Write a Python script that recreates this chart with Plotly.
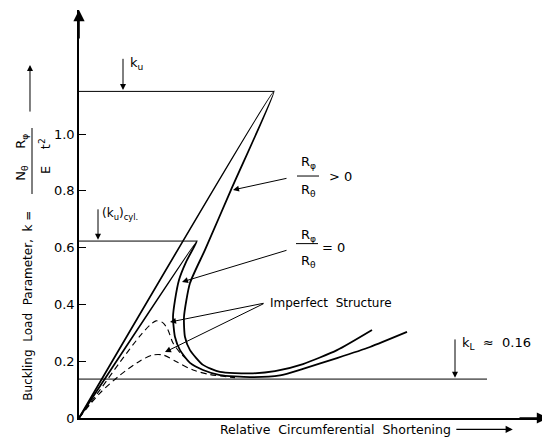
import plotly.graph_objects as go

# ---- data (x: relative circumferential shortening, arbitrary units; y: k) ----
outer_x = [0.0, 1.95, 1.52, 1.26, 1.11, 1.05, 1.06, 1.11, 1.24, 1.41, 1.71, 1.96, 2.24, 2.58, 2.93]
outer_y = [0.0, 1.15, 0.803, 0.592, 0.475, 0.356, 0.285, 0.239, 0.187, 0.162, 0.157, 0.165, 0.190, 0.239, 0.310]

inner_x = [0.0, 1.18, 1.07, 1.00, 0.96, 0.94, 0.96, 1.01, 1.11, 1.24, 1.41, 1.71, 2.01, 2.24, 2.58, 2.91, 3.28]
inner_y = [0.0, 0.623, 0.549, 0.486, 0.415, 0.356, 0.285, 0.239, 0.194, 0.169, 0.151, 0.144, 0.150, 0.173, 0.211, 0.250, 0.303]

imp1_x = [0.0, 0.21, 0.41, 0.61, 0.71, 0.77, 0.84, 0.89, 0.94, 1.02, 1.10]
imp1_y = [0.0, 0.099, 0.197, 0.289, 0.327, 0.342, 0.335, 0.310, 0.264, 0.226, 0.200]

imp2_x = [0.0, 0.21, 0.41, 0.61, 0.74, 0.84, 0.98, 1.14, 1.31, 1.56]
imp2_y = [0.0, 0.088, 0.151, 0.201, 0.222, 0.222, 0.197, 0.169, 0.153, 0.142]

k_u = 1.15
k_u_cyl = 0.623
k_L = 0.137
k_u_end = 1.95
k_u_cyl_end = 1.18
k_L_end = 4.08

y_ticks = [0, 0.2, 0.4, 0.6, 0.8, 1.0]
y_tick_labels = ["0", "0.2", "0.4", "0.6", "0.8", "1.0"]

X_MAX = 4.69
Y_MAX = 1.4366
FONT = "DejaVu Sans"

fig = go.Figure()
solid = dict(color="black", width=1.8)
dash = dict(color="black", width=1.1, dash="6px,4px")
fig.add_trace(go.Scatter(x=outer_x, y=outer_y, mode="lines", line=dict(shape="spline", smoothing=0.6, **solid)))
fig.add_trace(go.Scatter(x=inner_x, y=inner_y, mode="lines", line=dict(shape="spline", smoothing=0.6, **solid)))
fig.add_trace(go.Scatter(x=imp1_x, y=imp1_y, mode="lines", line=dict(shape="spline", smoothing=0.8, **dash)))
fig.add_trace(go.Scatter(x=imp2_x, y=imp2_y, mode="lines", line=dict(shape="spline", smoothing=0.8, **dash)))

# reference horizontal lines
for val, end in [(k_u, k_u_end), (k_u_cyl, k_u_cyl_end), (k_L, k_L_end)]:
    fig.add_trace(go.Scatter(x=[0, end], y=[val, val], mode="lines", line=dict(color="black", width=1)))

ann = []
def arrow(tx, ty, fx, fy, w=1.0):
    ann.append(dict(x=tx, y=ty, ax=fx, ay=fy, xref="x", yref="y", axref="x", ayref="y",
                    text="", showarrow=True, arrowhead=2, arrowsize=1.2, arrowwidth=w, arrowcolor="black"))

def txt(x, y, s, size=13, xanchor="left", angle=0, ref="x"):
    yr = "y" if ref == "x" else "paper"
    ann.append(dict(x=x, y=y, xref=ref, yref=yr, text=s, showarrow=False, xanchor=xanchor,
                    yanchor="middle", textangle=angle, font=dict(family=FONT, size=size, color="black")))

# marker arrows
arrow(0.44, k_u + 0.005, 0.44, 1.27)
arrow(0.19, k_u_cyl + 0.005, 0.19, 0.74)
arrow(3.76, k_L + 0.005, 3.76, 0.282)
# label arrows
arrow(1.54, 0.803, 2.09, 0.845)
arrow(1.03, 0.479, 2.09, 0.592)
arrow(0.91, 0.338, 1.86, 0.405)
arrow(0.86, 0.232, 1.86, 0.405)

txt(0.49, 1.25, "k<sub>u</sub>")
txt(0.21, 0.72, "(k<sub>u</sub>)<sub>cyl.</sub>", size=12)
# R_phi/R_theta > 0
txt(2.29, 0.898, "R<sub>φ</sub>", xanchor="center")
txt(2.29, 0.800, "R<sub>θ</sub>", xanchor="center")
txt(2.48, 0.852, "> 0")
# R_phi/R_theta = 0
txt(2.29, 0.644, "R<sub>φ</sub>", xanchor="center")
txt(2.29, 0.550, "R<sub>θ</sub>", xanchor="center")
txt(2.41, 0.600, "= 0")
txt(1.89, 0.405, "Imperfect  Structure", size=12)
txt(3.81, 0.262, "k<sub>L</sub>  ≈  0.16")

# x title (paper coords: outside the axis ranges)
txt(0.296, -0.028, "Relative  Circumferential  Shortening", size=12.5, ref="paper")
ann.append(dict(x=0.925, y=-0.028, xref="paper", yref="paper", ax=-58, ay=0, text="", showarrow=True,
                arrowhead=2, arrowsize=1.2, arrowwidth=1.2, arrowcolor="black"))
# y title (rotated)
txt(-0.109, 0.275, "Buckling  Load  Parameter,  k =", size=12, xanchor="center", angle=-90, ref="paper")
txt(-0.122, 0.640, "N<sub>θ</sub>    R<sub>φ</sub>", size=13, xanchor="center", angle=-90, ref="paper")
txt(-0.074, 0.643, "E    t<sup>2</sup>", size=13, xanchor="center", angle=-90, ref="paper")
ann.append(dict(x=-0.1045, y=0.865, xref="paper", yref="paper", ax=0, ay=48, text="", showarrow=True,
                arrowhead=2, arrowsize=1.2, arrowwidth=1, arrowcolor="black"))

# axis arrows
ann.append(dict(x=0, y=1, xref="paper", yref="paper", ax=0, ay=30, text="", showarrow=True,
                arrowhead=2, arrowsize=1.4, arrowwidth=1.6, arrowcolor="black"))
ann.append(dict(x=1, y=0, xref="paper", yref="paper", ax=-30, ay=0, text="", showarrow=True,
                arrowhead=2, arrowsize=1.4, arrowwidth=1.6, arrowcolor="black"))

shapes = [
    dict(type="line", xref="x", yref="y", x0=2.18, x1=2.40, y0=0.852, y1=0.852, line=dict(color="black", width=1)),
    dict(type="line", xref="x", yref="y", x0=2.17, x1=2.39, y0=0.614, y1=0.614, line=dict(color="black", width=1)),
    dict(type="line", xref="paper", yref="paper", x0=(32-79)/469, x1=(32-79)/469,
         y0=(418-194)/408, y1=(418-128)/408, line=dict(color="black", width=1)),
]

fig.update_layout(
    width=550, height=439,
    margin=dict(l=71, r=10, t=2, b=29),
    paper_bgcolor="white", plot_bgcolor="white",
    showlegend=False,
    annotations=ann, shapes=shapes,
    font=dict(family=FONT, size=13, color="black"),
    xaxis=dict(range=[0, X_MAX], showline=True, linecolor="black", linewidth=1.6,
               showticklabels=False, ticks="", showgrid=False, zeroline=False, fixedrange=True),
    yaxis=dict(range=[0, Y_MAX], showline=True, linecolor="black", linewidth=1.6,
               tickvals=y_ticks, ticktext=y_tick_labels, ticks="inside", ticklen=7,
               tickcolor="black", tickfont=dict(size=13, family=FONT),
               showgrid=False, zeroline=False, fixedrange=True),
)

fig.write_html("out.html")
